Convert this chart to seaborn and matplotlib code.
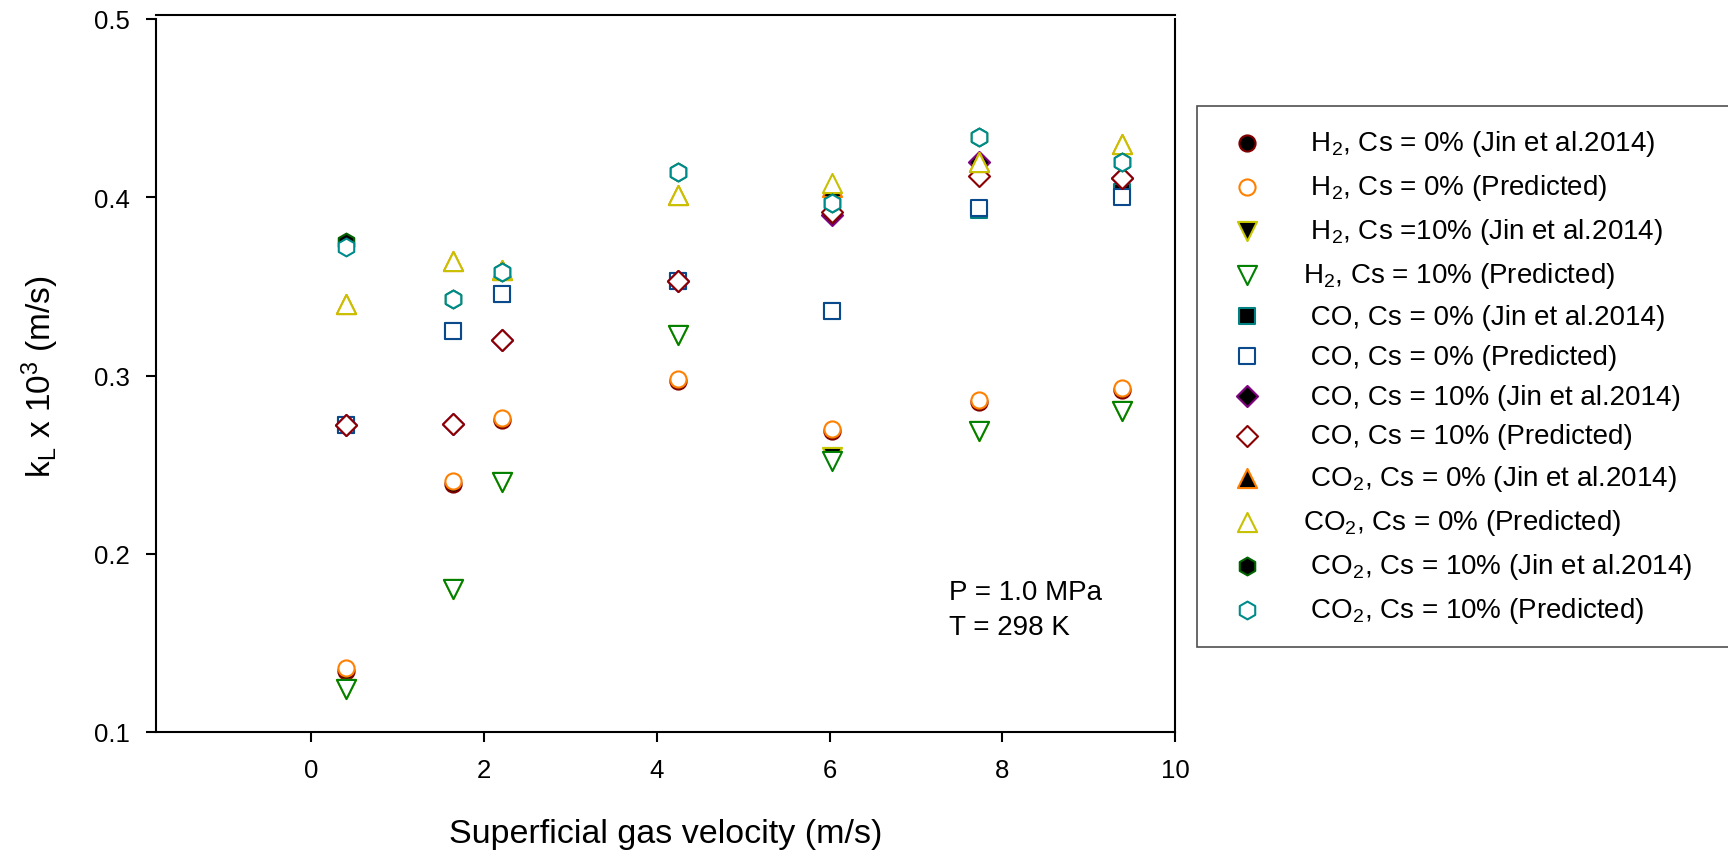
import matplotlib
matplotlib.use("Agg")
import matplotlib.pyplot as plt
import seaborn as sns

# ---- data ----
velocity = [0.40, 1.64, 2.21, 4.25, 6.03, 7.73, 9.39]

h2_0_exp = [0.134, 0.239, 0.275, 0.297, 0.269, 0.285, 0.292]
h2_0_pred = [0.136, 0.241, 0.276, 0.298, 0.270, 0.286, 0.293]
h2_10_exp = [0.124, 0.180, 0.240, 0.323, 0.254, 0.269, 0.280]
h2_10_pred = [0.124, 0.180, 0.240, 0.323, 0.252, 0.269, 0.280]
co_0_exp = [0.272, 0.325, 0.346, 0.353, 0.336, 0.393, 0.403]
co_0_pred = [0.272, 0.325, 0.346, 0.353, 0.336, 0.394, 0.400]
co_10_exp = [0.272, 0.273, 0.320, 0.353, 0.390, 0.420, 0.411]
co_10_pred = [0.272, 0.273, 0.320, 0.353, 0.392, 0.412, 0.411]
co2_0_exp = [0.340, 0.364, 0.359, 0.401, 0.406, 0.420, 0.430]
co2_0_pred = [0.340, 0.364, 0.359, 0.401, 0.408, 0.420, 0.430]
co2_10_exp = [0.375, 0.343, 0.358, 0.414, 0.397, 0.434, 0.420]
co2_10_pred = [0.372, 0.343, 0.358, 0.414, 0.397, 0.434, 0.420]

labels = [
    " H$_2$, Cs = 0% (Jin et al.2014)",
    " H$_2$, Cs = 0% (Predicted)",
    " H$_2$, Cs =10% (Jin et al.2014)",
    "H$_2$, Cs = 10% (Predicted)",
    " CO, Cs = 0% (Jin et al.2014)",
    " CO, Cs = 0% (Predicted)",
    " CO, Cs = 10% (Jin et al.2014)",
    " CO, Cs = 10% (Predicted)",
    " CO$_2$, Cs = 0% (Jin et al.2014)",
    "CO$_2$, Cs = 0% (Predicted)",
    " CO$_2$, Cs = 10% (Jin et al.2014)",
    " CO$_2$, Cs = 10% (Predicted)",
]

# (values, marker, size, facecolor, edgecolor) in legend / drawing order
series = [
    (h2_0_exp, "o", 135, "black", "#800000"),
    (h2_0_pred, "o", 135, "white", "#ff8000"),
    (h2_10_exp, "v", 190, "black", "#c8c800"),
    (h2_10_pred, "v", 190, "white", "#008000"),
    (co_0_exp, "s", 130, "black", "#008080"),
    (co_0_pred, "s", 130, "white", "#0a4a8c"),
    (co_10_exp, "D", 115, "black", "#800080"),
    (co_10_pred, "D", 115, "white", "#8b0000"),
    (co2_0_exp, "^", 190, "black", "#ff8000"),
    (co2_0_pred, "^", 190, "white", "#c8c000"),
    (co2_10_exp, "h", 165, "black", "#006400"),
    (co2_10_pred, "h", 165, "white", "#008b8b"),
]

sns.set_theme(style="ticks")
plt.rcParams["font.family"] = ["Liberation Sans", "DejaVu Sans"]
plt.rcParams["mathtext.default"] = "regular"
plt.rcParams["text.color"] = "black"
plt.rcParams["axes.labelcolor"] = "black"

fig = plt.figure(figsize=(17.28, 8.53), dpi=100)
ax = fig.add_axes([156 / 1728, 1 - 733 / 853, (1175 - 156) / 1728, (733 - 20) / 853])

for (vals, mk, size, fc, ec), lab in zip(series, labels):
    sns.scatterplot(x=velocity, y=vals, ax=ax, marker=mk, s=size,
                    color=ec, facecolor=fc, edgecolor=ec, linewidth=1.5,
                    label=lab, legend=False, zorder=3)

ax.set_xlim(-1.8, 10)
ax.set_ylim(0.1, 0.5)
ax.set_xticks([0, 2, 4, 6, 8, 10])
ax.set_yticks([0.1, 0.2, 0.3, 0.4, 0.5])
ax.set_yticklabels(["0.1", "0.2", "0.3", "0.4", "0.5"])

for sp in ax.spines.values():
    sp.set_linewidth(1.5)
    sp.set_color("black")
ax.spines["top"].set_position(("outward", 3))
ax.tick_params(axis="both", direction="out", length=7, width=1.5,
               labelsize=18.5, pad=12, colors="black")

ax.set_xlabel("Superficial gas velocity (m/s)", fontsize=24.5, color="black")
ax.xaxis.label.set_va("center")
ax.xaxis.set_label_coords(0.5, (733 - 834) / 713)
ax.set_ylabel("k$_L$ x 10$^3$ (m/s)", fontsize=24, color="black")
ax.yaxis.label.set_va("center")
ax.yaxis.set_label_coords((40 - 156) / 1019, 0.5)

ax.text(7.38, 0.186, "P = 1.0 MPa\nT = 298 K", fontsize=20, va="top",
        ha="left", linespacing=1.45, color="black")

handles, hl = ax.get_legend_handles_labels()
leg = fig.legend(handles, hl, loc="upper left",
                 bbox_to_anchor=(1197 / 1728, 0, 0.32, 1 - 107 / 853),
                 mode="expand", borderaxespad=0, fontsize=20,
                 frameon=True, fancybox=False, edgecolor="#222222",
                 borderpad=0.8, handletextpad=1.0, labelspacing=0.5,
                 scatterpoints=1, labelcolor="black")
leg.get_frame().set_linewidth(1.2)

fig.savefig("out.png", dpi=100)
